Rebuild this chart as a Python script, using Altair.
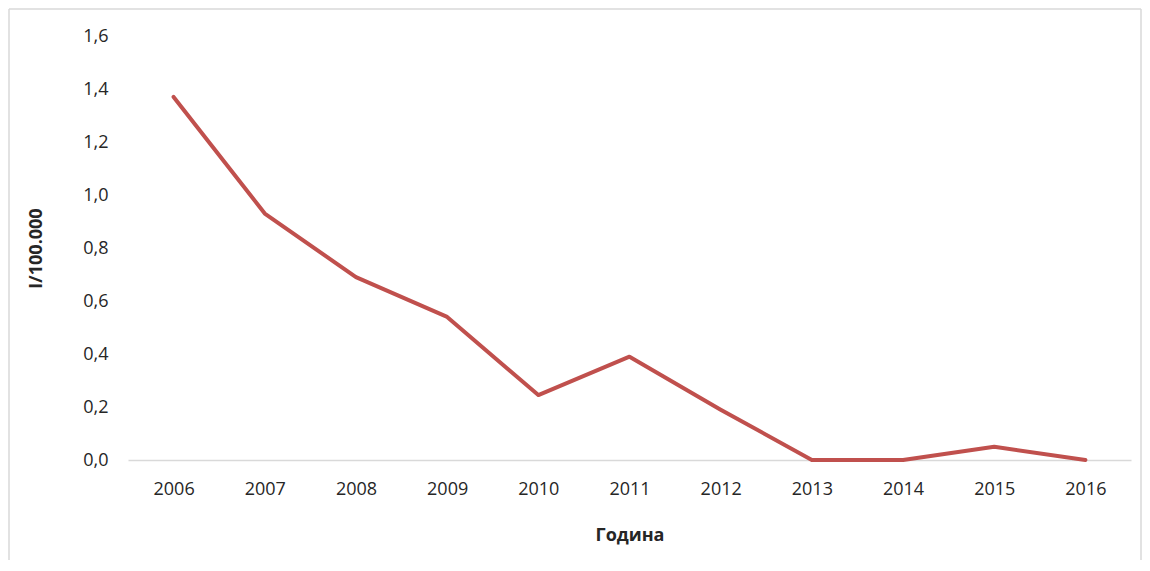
import altair as alt
import pandas as pd

years = ["2006", "2007", "2008", "2009", "2010", "2011", "2012", "2013", "2014", "2015", "2016"]
values = [1.37, 0.93, 0.69, 0.54, 0.245, 0.39, 0.19, 0.0, 0.0, 0.05, 0.0]

df = pd.DataFrame({"year": years, "value": values})

FONT = "Open Sans"
W, H = 1003, 424
BL, BT, BR, BB = -119, -27, 1013, 530

one = pd.DataFrame({"a": [0]})
def rule(**enc):
    return alt.Chart(one).mark_rule(stroke="#D9D9D9", strokeWidth=1.5, clip=False).encode(**enc)

border = alt.layer(
    rule(x=alt.value(BL), y=alt.value(BT), y2=alt.value(BB)),
    rule(x=alt.value(BR), y=alt.value(BT), y2=alt.value(BB)),
    rule(x=alt.value(BL), x2=alt.value(BR), y=alt.value(BT)),
)

line = alt.Chart(df).mark_line(color="#C0504D", strokeWidth=4, strokeCap="round", strokeJoin="round").encode(
    x=alt.X("year:N", sort=years, scale=alt.Scale(type="point", padding=0.5),
            axis=alt.Axis(title="Година", labelAngle=0, ticks=False, domain=True,
                          domainColor="#D9D9D9", domainWidth=1.5,
                          labelFont=FONT, labelFontSize=18, labelColor="#262626",
                          labelPadding=20,
                          titleFont=FONT, titleFontSize=18, titleFontWeight="bold",
                          titleColor="#262626", titleY=75, titleBaseline="middle")),
    y=alt.Y("value:Q", scale=alt.Scale(domain=[0, 1.6], nice=False),
            axis=alt.Axis(title="I/100.000", values=[0, 0.2, 0.4, 0.6, 0.8, 1.0, 1.2, 1.4, 1.6],
                          labelExpr="replace(format(datum.value, '.1f'), '.', ',')",
                          grid=False, domain=False, ticks=False, labelPadding=20,
                          labelFont=FONT, labelFontSize=18, labelColor="#262626",
                          titleFont=FONT, titleFontSize=18, titleFontWeight="bold",
                          titleColor="#262626", titleX=-92, titleY=212,
                          titleBaseline="middle", titleAngle=-90)),
)

chart = alt.layer(line, border).properties(
    width=W, height=H,
    background="white",
    autosize=alt.AutoSizeParams(type="none"),
    padding={"left": 120, "top": 28, "right": 11, "bottom": 100},
).configure_view(strokeWidth=0, stroke="transparent")

chart.save("out.html", embed_options={"renderer": "svg", "actions": False})
